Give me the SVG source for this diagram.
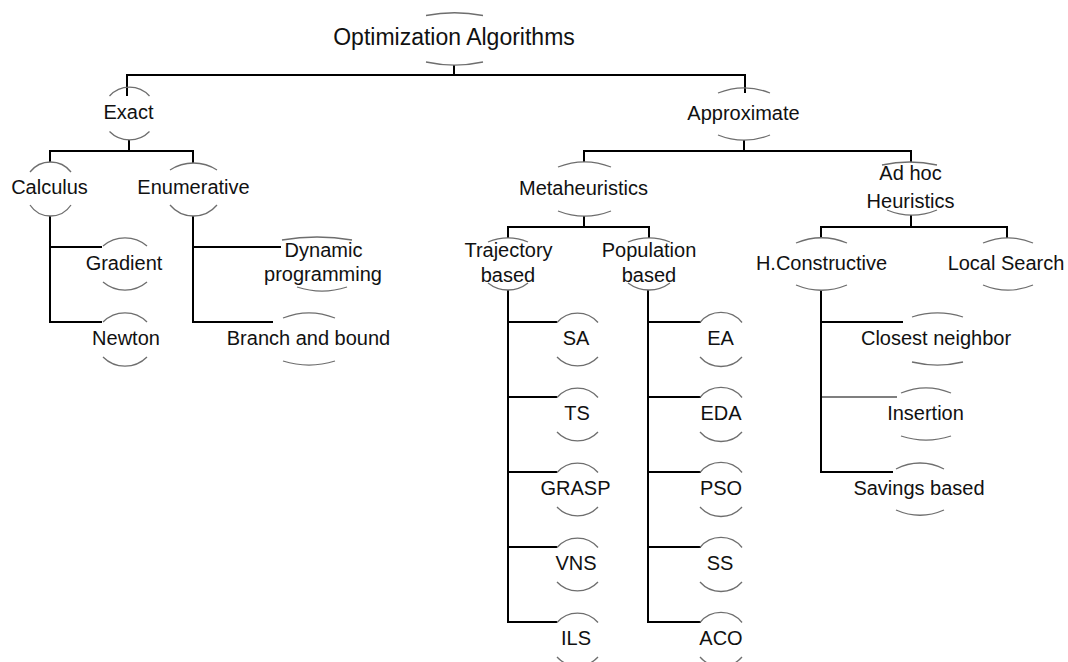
<svg xmlns="http://www.w3.org/2000/svg" width="1068" height="662" viewBox="0 0 1068 662">
<style>
  text { font-family: "Liberation Sans", Arial, sans-serif; font-size: 20px; fill: #111; text-anchor: middle; }
  .root { font-size: 23px; }
  .arc { fill: none; stroke: #6e6e6e; stroke-width: 1.3; }
  .con { fill: none; stroke: #000; stroke-width: 2; }
  .thin { stroke-width: 1.2; }
</style>
<rect width="1068" height="662" fill="#fff"/>
<g id="connectors">
  <path class="con" d="M454,65 V75 M127,96 V75 H745 V93"/>
  <path class="con" d="M129,140 V151 M50,162 V151 H193 V163"/>
  <path class="con" d="M50,216 V322 H102 M50,247 H102"/>
  <path class="con" d="M193,216 V322 H273 M193,247 H281"/>
  <path class="con" d="M744,140 V151 M584,162 V151 H911 V162"/>
  <path class="con" d="M584,216 V227 M508,238 V227 H649 V238"/>
  <path class="con" d="M508,290 V622 H557 M508,322 H557 M508,397 H557 M508,472 H557 M508,547 H557"/>
  <path class="con" d="M648,290 V622 H701 M648,322 H701 M648,397 H701 M648,472 H701 M648,547 H701"/>
  <path class="con" d="M911,215 V227 M821,238 V227 H1007 V238"/>
  <path class="con" d="M821,290 V472 H893 M821,322 H903"/>
  <path class="con thin" d="M821,397 H897"/>
</g>
<g id="n-root">
  <path class="arc" d="M426,15.5 A150,150 0 0 1 483,15.5 M426,62 A135,135 0 0 0 483,62"/>
  <text class="root" x="454" y="45">Optimization Algorithms</text>
</g>
<g id="n-exact">
  <path class="arc" d="M109.5,96 A27,27 0 0 1 149.5,96 M109.5,131.5 A28,28 0 0 0 149.5,131.5"/>
  <text x="128.5" y="119">Exact</text>
</g>
<g id="n-calculus">
  <path class="arc" d="M30,172 A26,26 0 0 1 71,172 M30,205 A24.6,24.6 0 0 0 71,205"/>
  <text x="49.5" y="194">Calculus</text>
</g>
<g id="n-enumerative">
  <path class="arc" d="M170,170 A43,43 0 0 1 217,170 M170,205 A30.6,30.6 0 0 0 217,205"/>
  <text x="193.5" y="194">Enumerative</text>
</g>
<g id="n-gradient">
  <path class="arc" d="M103,246 A34,34 0 0 1 147,246 M103,282 A34,34 0 0 0 147,282"/>
  <text x="124" y="270">Gradient</text>
</g>
<g id="n-newton">
  <path class="arc" d="M103,322 A31,31 0 0 1 147,322 M103,357 A31,31 0 0 0 147,357"/>
  <text x="126" y="345">Newton</text>
</g>
<g id="n-dynamic">
  <path class="arc" d="M282,240 A206,206 0 0 1 352,240 M297,287 A80,80 0 0 0 347,287"/>
  <text x="323.5" y="257">Dynamic</text>
  <text x="323" y="281">programming</text>
</g>
<g id="n-branch">
  <path class="arc" d="M283,318 A70,70 0 0 1 335,318 M283,361 A87,87 0 0 0 335,361"/>
  <text x="308.5" y="345">Branch and bound</text>
</g>
<g id="n-approximate">
  <path class="arc" d="M718,93 A70,70 0 0 1 770,93 M718,135 A70,70 0 0 0 770,135"/>
  <text x="743.5" y="120">Approximate</text>
</g>
<g id="n-metaheuristics">
  <path class="arc" d="M558,167 A73,73 0 0 1 611,167 M558,211 A73,73 0 0 0 611,211"/>
  <text x="583.5" y="195">Metaheuristics</text>
</g>
<g id="n-adhoc">
  <path class="arc" d="M882,165 A128,128 0 0 1 937,165 M887,210 A65,65 0 0 0 937,210"/>
  <text x="910.5" y="180">Ad hoc</text>
  <text x="910.5" y="208">Heuristics</text>
</g>
<g id="n-trajectory">
  <path class="arc" d="M488,242 A52,52 0 0 1 528,242 M488,283 A32,32 0 0 0 528,283"/>
  <text x="508.5" y="257">Trajectory</text>
  <text x="508" y="282">based</text>
</g>
<g id="n-population">
  <path class="arc" d="M628,242 A57,57 0 0 1 670,242 M628,283 A35,35 0 0 0 670,283"/>
  <text x="649" y="257">Population</text>
  <text x="649" y="282">based</text>
</g>
<g id="n-hconstructive">
  <path class="arc" d="M796,243 A67,67 0 0 1 847,243 M796,285 A67,67 0 0 0 847,285"/>
  <text x="821.5" y="270">H.Constructive</text>
</g>
<g id="n-localsearch">
  <path class="arc" d="M983,243 A65,65 0 0 1 1033,243 M983,285 A65,65 0 0 0 1033,285"/>
  <text x="1006" y="270">Local Search</text>
</g>
<g id="n-closest">
  <path class="arc" d="M912,317 A83,83 0 0 1 963,317 M912,362 A110,110 0 0 0 963,362"/>
  <text x="936" y="345">Closest neighbor</text>
</g>
<g id="n-insertion">
  <path class="arc" d="M901,393 A65,65 0 0 1 951,393 M901,436 A80,80 0 0 0 951,436"/>
  <text x="925.5" y="420">Insertion</text>
</g>
<g id="n-savings">
  <path class="arc" d="M896,469 A51,51 0 0 1 944,469 M896,510 A60,60 0 0 0 944,510"/>
  <text x="919" y="495">Savings based</text>
</g>
<g id="n-sa">
  <path class="arc" d="M557,322.5 A27,27 0 0 1 598,322.5 M557,357 A28,28 0 0 0 598,357"/>
  <text x="576" y="345">SA</text>
</g>
<g id="n-ts">
  <path class="arc" d="M557,397.5 A27,27 0 0 1 598,397.5 M557,432 A28,28 0 0 0 598,432"/>
  <text x="577" y="420">TS</text>
</g>
<g id="n-grasp">
  <path class="arc" d="M557,472.5 A27,27 0 0 1 598,472.5 M557,507 A28,28 0 0 0 598,507"/>
  <text x="575.5" y="495">GRASP</text>
</g>
<g id="n-vns">
  <path class="arc" d="M557,547.5 A27,27 0 0 1 598,547.5 M557,582 A28,28 0 0 0 598,582"/>
  <text x="576" y="570">VNS</text>
</g>
<g id="n-ils">
  <path class="arc" d="M557,622.5 A27,27 0 0 1 598,622.5 M557,657 A28,28 0 0 0 598,657"/>
  <text x="576" y="645">ILS</text>
</g>
<g id="n-ea">
  <path class="arc" d="M700,322.5 A27,27 0 0 1 742,322.5 M700,357 A28,28 0 0 0 742,357"/>
  <text x="720.5" y="345">EA</text>
</g>
<g id="n-eda">
  <path class="arc" d="M700,397.5 A27,27 0 0 1 742,397.5 M700,432 A28,28 0 0 0 742,432"/>
  <text x="721" y="420">EDA</text>
</g>
<g id="n-pso">
  <path class="arc" d="M700,472.5 A27,27 0 0 1 742,472.5 M700,507 A28,28 0 0 0 742,507"/>
  <text x="721" y="495">PSO</text>
</g>
<g id="n-ss">
  <path class="arc" d="M700,547.5 A27,27 0 0 1 742,547.5 M700,582 A28,28 0 0 0 742,582"/>
  <text x="720" y="570">SS</text>
</g>
<g id="n-aco">
  <path class="arc" d="M700,622.5 A27,27 0 0 1 742,622.5 M700,657 A28,28 0 0 0 742,657"/>
  <text x="721" y="645">ACO</text>
</g>
</svg>
